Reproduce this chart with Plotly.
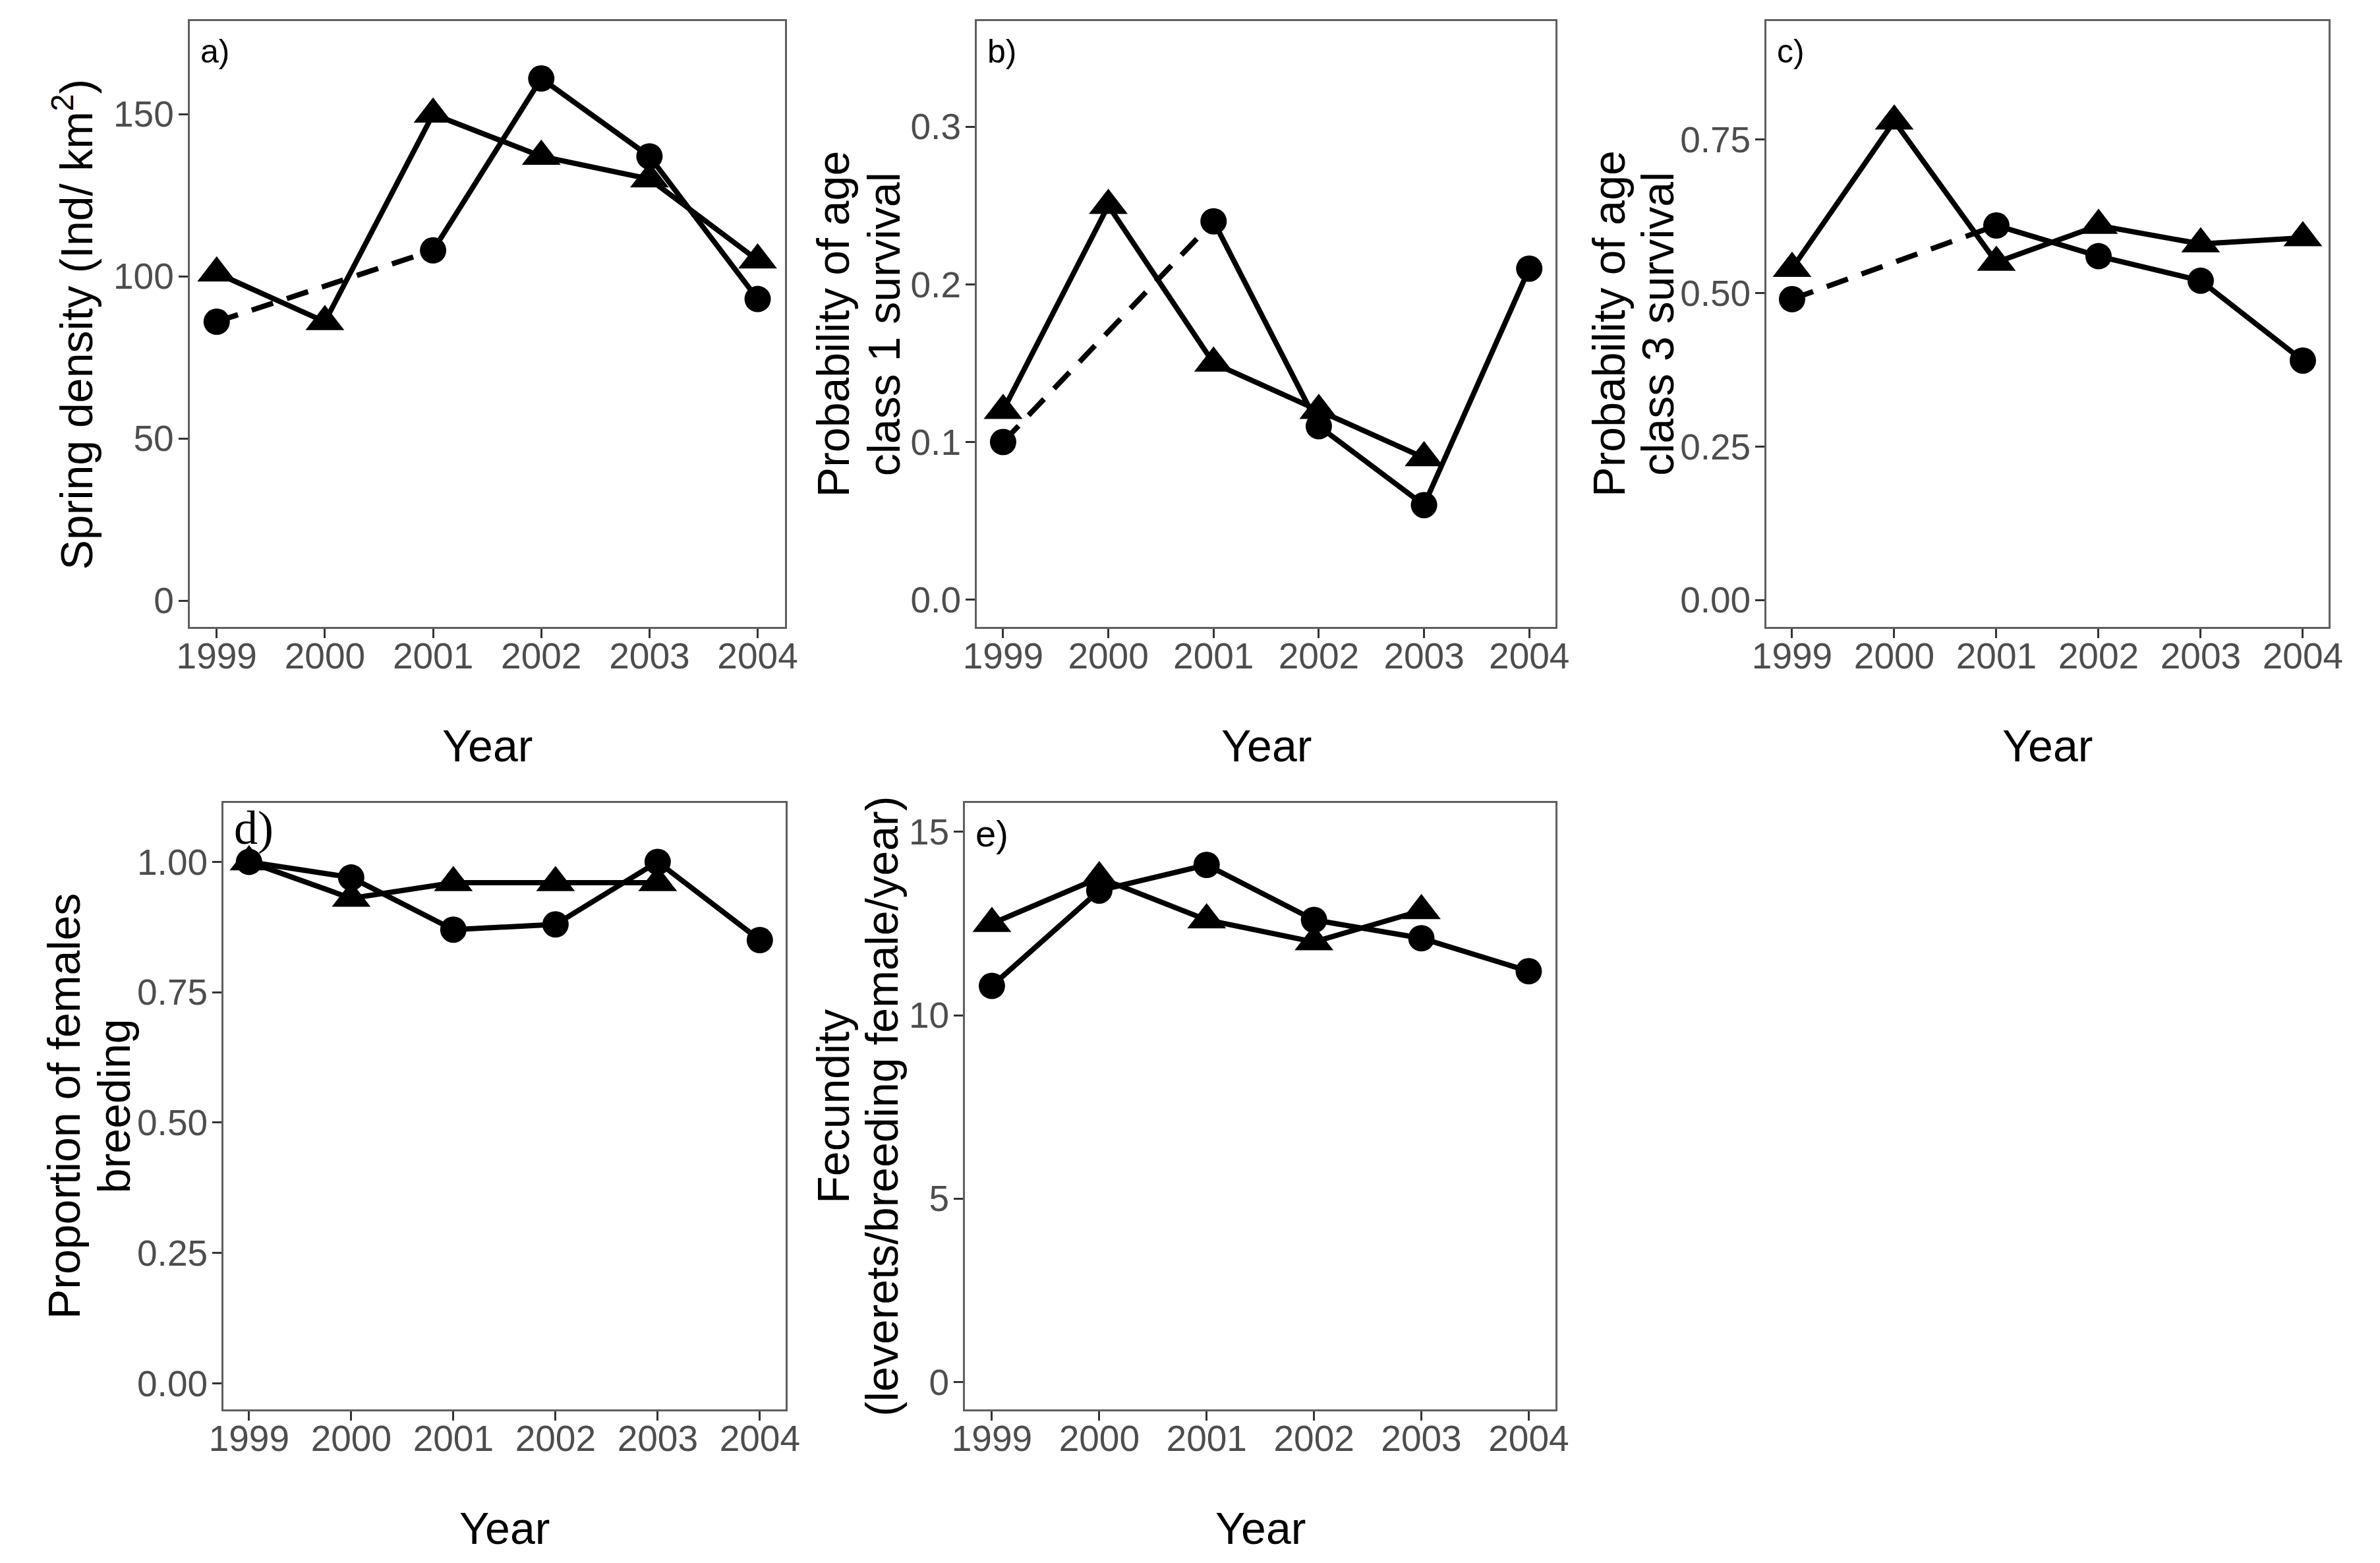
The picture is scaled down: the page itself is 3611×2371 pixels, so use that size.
import plotly.graph_objects as go

W, H = 3611, 2371

years = [1999, 2000, 2001, 2002, 2003, 2004]

# panel a: spring density
a_tri = [101, 86, 150, 137, 130, 105]
a_circ = [86, None, 108, 161, 137, 93]
# panel b: age class 1 survival
b_tri = [0.12, 0.25, 0.15, 0.12, 0.09, None]
b_circ = [0.10, None, 0.24, 0.11, 0.06, 0.21]
# panel c: age class 3 survival
c_tri = [0.54, 0.78, 0.55, 0.61, 0.58, 0.59]
c_circ = [0.49, None, 0.61, 0.56, 0.52, 0.39]
# panel d: proportion of females breeding
d_tri = [1.00, 0.93, 0.96, 0.96, 0.96, None]
d_circ = [1.00, 0.97, 0.87, 0.88, 1.00, 0.85]
# panel e: fecundity
e_tri = [12.5, 13.75, 12.6, 12.0, 12.85, None]
e_circ = [10.8, 13.4, 14.1, 12.6, 12.1, 11.2]

a_ticks = [0, 50, 100, 150]
b_ticks = [0.0, 0.1, 0.2, 0.3]
c_ticks = [0.00, 0.25, 0.50, 0.75]
d_ticks = [0.00, 0.25, 0.50, 0.75, 1.00]
e_ticks = [0, 5, 10, 15]

a_title = ["Spring density (Ind/ km<sup>2</sup>)"]
b_title = ["Probability of age", "class 1 survival"]
c_title = ["Probability of age", "class 3 survival"]
d_title = ["Proportion of females", "breeding"]
e_title = ["Fecundity", "(leverets/breeding female/year)"]


def px(x):
    return x / W


def py(y):
    return 1 - y / H


SANS = "Liberation Sans, Arial, sans-serif"
SERIF = "Liberation Serif, Times New Roman, serif"

panels = [
    dict(tri=a_tri, circ=a_circ, ticks=a_ticks, fmt="d", yr=[-8.1, 178.7],
         box=(269, 32, 1183, 951), label="a)", lfont=SANS, lsize=50, ly=78,
         ytitle=a_title, ytx=[90]),
    dict(tri=b_tri, circ=b_circ, ticks=b_ticks, fmt=".1f", yr=[-0.0173, 0.367],
         box=(1478, 32, 2367, 951), label="b)", lfont=SANS, lsize=50, ly=78,
         ytitle=b_title, ytx=[1257, 1335]),
    dict(tri=c_tri, circ=c_circ, ticks=c_ticks, fmt=".2f", yr=[-0.044, 0.943],
         box=(2691, 32, 3554, 951), label="c)", lfont=SANS, lsize=50, ly=78,
         ytitle=c_title, ytx=[2448, 2523]),
    dict(tri=d_tri, circ=d_circ, ticks=d_ticks, fmt=".2f", yr=[-0.05, 1.113],
         box=(321, 1218, 1184, 2138), label="d)", lfont=SERIF, lsize=72, ly=1256,
         ytitle=d_title, ytx=[76, 153]),
    dict(tri=e_tri, circ=e_circ, ticks=e_ticks, fmt="d", yr=[-0.75, 15.79],
         box=(1460, 1218, 2367, 2138), label="e)", lfont=SANS, lsize=56, ly=1264,
         ytitle=e_title, ytx=[1257, 1332]),
]

fig = go.Figure()
layout = dict(
    width=W, height=H,
    margin=dict(l=0, r=0, t=0, b=0),
    paper_bgcolor="white", plot_bgcolor="white",
    showlegend=False,
    font=dict(family=SANS, color="#000000"),
)
annotations = []

LW = 8
DASH = "34px,22px"
TITLE_SIZE = 68


def gap_bridges(xs, ys):
    """Return list of (x pair, y pair) bridging missing values."""
    out = []
    idx = [i for i, v in enumerate(ys) if v is not None]
    for i0, i1 in zip(idx[:-1], idx[1:]):
        if i1 - i0 > 1:
            out.append(([xs[i0], xs[i1]], [ys[i0], ys[i1]]))
    return out


for k, p in enumerate(panels, start=1):
    xa = "x" if k == 1 else f"x{k}"
    ya = "y" if k == 1 else f"y{k}"
    l, t, r, b = p["box"]
    axis_common = dict(
        showgrid=False, zeroline=False,
        showline=True, linecolor="#5f5f5f", linewidth=3, mirror=True,
        ticks="outside", ticklen=14, tickwidth=3, tickcolor="#333333",
        tickfont=dict(family=SANS, size=55, color="#4D4D4D"),
    )
    layout["xaxis" if k == 1 else f"xaxis{k}"] = dict(
        axis_common, domain=[px(l), px(r)], anchor=ya,
        range=[1998.75, 2004.25], tickvals=years, ticktext=[str(v) for v in years],
        ticklabelstandoff=-20,
    )
    layout["yaxis" if k == 1 else f"yaxis{k}"] = dict(
        axis_common, domain=[py(b), py(t)], anchor=xa,
        range=p["yr"], tickvals=p["ticks"], tickformat=p["fmt"],
        ticklabelstandoff=-4,
    )

    fig.add_trace(go.Scatter(x=years, y=p["tri"], mode="lines", xaxis=xa, yaxis=ya,
                             line=dict(color="black", width=LW), connectgaps=False,
                             hoverinfo="skip"))
    for bx, by in gap_bridges(years, p["circ"]):
        fig.add_trace(go.Scatter(x=bx, y=by, mode="lines", xaxis=xa, yaxis=ya,
                                 line=dict(color="black", width=LW, dash=DASH),
                                 hoverinfo="skip"))
    fig.add_trace(go.Scatter(x=years, y=p["circ"], mode="lines", xaxis=xa, yaxis=ya,
                             line=dict(color="black", width=LW), connectgaps=False,
                             hoverinfo="skip"))
    fig.add_trace(go.Scatter(x=years, y=p["tri"], mode="markers", xaxis=xa, yaxis=ya,
                             marker=dict(symbol="triangle-up", size=51, color="black",
                                         line=dict(width=0)),
                             hoverinfo="skip"))
    fig.add_trace(go.Scatter(x=years, y=p["circ"], mode="markers", xaxis=xa, yaxis=ya,
                             marker=dict(symbol="circle", size=40, color="black",
                                         line=dict(width=0)),
                             hoverinfo="skip"))

    annotations.append(dict(text=p["label"], xref="paper", yref="paper",
                            x=px(l + 14), y=py(p["ly"]), xanchor="left", yanchor="middle",
                            showarrow=False,
                            font=dict(family=p["lfont"], size=p["lsize"], color="black")))
    for line_text, lx in zip(p["ytitle"], p["ytx"]):
        annotations.append(dict(text=line_text, xref="paper", yref="paper",
                                x=px(lx), y=py((t + b) / 2), xanchor="center", yanchor="middle",
                                textangle=-90, showarrow=False,
                                font=dict(family=SANS, size=TITLE_SIZE, color="black")))
    annotations.append(dict(text="Year", xref="paper", yref="paper",
                            x=px((l + r) / 2), y=py(b + 180), xanchor="center", yanchor="middle",
                            showarrow=False,
                            font=dict(family=SANS, size=TITLE_SIZE, color="black")))

layout["annotations"] = annotations
fig.update_layout(**layout)
fig.write_html(
    "out.html",
    config={"displayModeBar": False},
    post_script="document.body.style.margin='0px';document.body.style.padding='0px';"
                "document.body.style.overflow='hidden';",
)
